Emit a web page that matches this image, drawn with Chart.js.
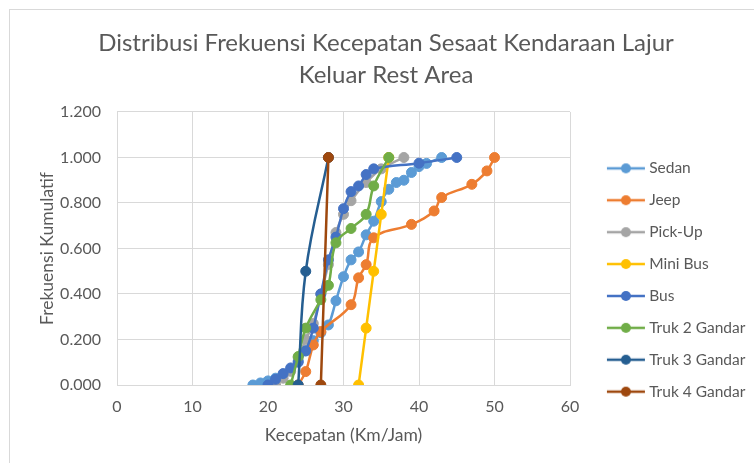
<!DOCTYPE html>
<html>
<head>
<meta charset="utf-8">
<script src="https://cdn.jsdelivr.net/npm/chart.js@4.4.1/dist/chart.umd.min.js"></script>
<style>
  html, body { margin: 0; padding: 0; background: #fff; overflow: hidden; }
  canvas { position: absolute; left: 0; top: 0; }
  #frame { position: absolute; left: 9px; top: 9px; width: 800px; height: 500px; border: 1px solid #d9d9d9; pointer-events: none; }
</style>
</head>
<body>
<canvas id="chart" width="754" height="463"></canvas>
<div id="frame"></div>
<script>
// Series (speed in km/h, cumulative frequency)
const seriesNames = ['Sedan', 'Jeep', 'Pick-Up', 'Mini Bus', 'Bus', 'Truk 2 Gandar', 'Truk 3 Gandar', 'Truk 4 Gandar'];
const seriesColors = ['#5B9BD5', '#ED7D31', '#A5A5A5', '#FFC000', '#4472C4', '#70AD47', '#255E91', '#9E480E'];

const sedanSpeed = [18, 19, 20, 21, 22, 23, 24, 25, 26, 27, 28, 29, 30, 31, 32, 33, 34, 35, 36, 37, 38, 39, 40, 41, 43];
const sedanFreq = [0.000, 0.009, 0.018, 0.030, 0.044, 0.066, 0.105, 0.150, 0.195, 0.230, 0.264, 0.370, 0.476, 0.550, 0.585, 0.660, 0.720, 0.806, 0.860, 0.890, 0.900, 0.934, 0.960, 0.974, 1.000];

const jeepSpeed = [24, 25, 26, 27, 31, 32, 33, 34, 39, 42, 43, 47, 49, 50];
const jeepFreq = [0.000, 0.059, 0.176, 0.235, 0.353, 0.471, 0.529, 0.647, 0.706, 0.765, 0.824, 0.882, 0.941, 1.000];

const pickupSpeed = [21, 22, 23, 24, 25, 26, 27, 28, 29, 30, 31, 33, 35, 38];
const pickupFreq = [0.000, 0.030, 0.060, 0.120, 0.200, 0.270, 0.400, 0.530, 0.670, 0.750, 0.810, 0.890, 0.950, 1.000];

const minibusSpeed = [32, 33, 34, 35, 36];
const minibusFreq = [0.000, 0.250, 0.500, 0.750, 1.000];

const busSpeed = [20, 21, 22, 23, 24, 25, 26, 27, 28, 29, 30, 31, 32, 33, 34, 40, 45];
const busFreq = [0.000, 0.025, 0.050, 0.075, 0.100, 0.150, 0.250, 0.400, 0.550, 0.650, 0.775, 0.850, 0.875, 0.925, 0.950, 0.975, 1.000];

const truk2Speed = [23, 24, 25, 27, 28, 29, 31, 33, 34, 36];
const truk2Freq = [0.000, 0.125, 0.250, 0.375, 0.438, 0.625, 0.688, 0.750, 0.875, 1.000];

const truk3Speed = [24, 25, 28];
const truk3Freq = [0.000, 0.500, 1.000];

const truk4Speed = [27, 28];
const truk4Freq = [0.000, 1.000];

const xTicks = [0, 10, 20, 30, 40, 50, 60];
const yTicks = [0, 0.2, 0.4, 0.6, 0.8, 1.0, 1.2];

const allSpeeds = [sedanSpeed, jeepSpeed, pickupSpeed, minibusSpeed, busSpeed, truk2Speed, truk3Speed, truk4Speed];
const allFreqs = [sedanFreq, jeepFreq, pickupFreq, minibusFreq, busFreq, truk2Freq, truk3Freq, truk4Freq];

const textColor = '#595959';
const gridColor = '#D9D9D9';
const fontFamily = 'Lato, "Open Sans", sans-serif';

// line + marker icon used in the legend
function legendIcon(color) {
    const c = document.createElement('canvas');
    c.width = 66;
    c.height = 12;
    const g = c.getContext('2d');
    g.strokeStyle = color;
    g.lineWidth = 2.5;
    g.beginPath();
    g.moveTo(26, 6);
    g.lineTo(64, 6);
    g.stroke();
    g.fillStyle = color;
    g.beginPath();
    g.arc(45, 6, 5, 0, Math.PI * 2);
    g.fill();
    return c;
}

const datasets = seriesNames.map((name, i) => ({
    label: name,
    data: allSpeeds[i].map((x, j) => ({ x: x, y: allFreqs[i][j] })),
    showLine: true,
    tension: 0.4,
    borderColor: seriesColors[i],
    backgroundColor: seriesColors[i],
    borderWidth: 2.5,
    pointRadius: 5,
    pointBorderWidth: 1,
    pointBackgroundColor: seriesColors[i],
    pointBorderColor: seriesColors[i],
    order: seriesNames.length - i // later series on top, as in Excel
}));

// keep the legend box at a fixed width so the plot area lines up
const fixedLegendWidth = {
    id: 'fixedLegendWidth',
    beforeLayout(chart) {
        const legend = chart.legend;
        if (legend && !legend._widthFixed) {
            const fit = legend.fit;
            legend.fit = function () {
                fit.call(this);
                this.width = 184;
            };
            legend._widthFixed = true;
        }
    }
};

new Chart(document.getElementById('chart'), {
    type: 'scatter',
    data: { datasets: datasets },
    plugins: [fixedLegendWidth],
    options: {
        responsive: false,
        animation: false,
        devicePixelRatio: 1,
        layout: { padding: { top: 10, left: 18, right: 0, bottom: 15 } },
        plugins: {
            title: {
                display: true,
                text: ['Distribusi Frekuensi Kecepatan Sesaat Kendaraan Lajur', 'Keluar Rest Area'],
                color: textColor,
                font: { family: fontFamily, size: 24, weight: 'normal', lineHeight: 1.333 },
                padding: { top: 17, bottom: 21 }
            },
            legend: {
                position: 'right',
                align: 'center',
                // empty title only used as a spacer to push the items down
                title: { display: true, text: '', font: { size: 10, lineHeight: 1 }, padding: { top: 92, bottom: 0 } },
                labels: {
                    color: textColor,
                    font: { family: fontFamily, size: 15.5 },
                    padding: 16.4,
                    usePointStyle: true,
                    pointStyleWidth: 55,
                    sort: (a, b) => a.datasetIndex - b.datasetIndex,
                    generateLabels: (chart) => {
                        const items = Chart.defaults.plugins.legend.labels.generateLabels(chart);
                        items.forEach(item => {
                            item.pointStyle = legendIcon(seriesColors[item.datasetIndex]);
                        });
                        return items;
                    }
                }
            },
            tooltip: { enabled: false }
        },
        scales: {
            x: {
                type: 'linear',
                min: 0,
                max: 60,
                afterBuildTicks: (scale) => { scale.ticks = xTicks.map(v => ({ value: v })); },
                ticks: { color: textColor, font: { family: fontFamily, size: 16 }, padding: 12 },
                grid: { color: gridColor, drawTicks: false },
                border: { color: gridColor },
                title: {
                    display: true,
                    text: 'Kecepatan (Km/Jam)',
                    color: textColor,
                    font: { family: fontFamily, size: 17.5 },
                    padding: { top: 0, bottom: 2.5 }
                },
                afterFit: (scale) => { scale.height = 63; }
            },
            y: {
                type: 'linear',
                min: 0,
                max: 1.2,
                afterBuildTicks: (scale) => { scale.ticks = yTicks.map(v => ({ value: v })); },
                ticks: {
                    color: textColor,
                    font: { family: fontFamily, size: 16 },
                    padding: 16,
                    callback: (v) => Number(v).toFixed(3)
                },
                grid: { color: gridColor, drawTicks: false },
                border: { color: gridColor },
                title: {
                    display: true,
                    text: 'Frekuensi Kumulatif',
                    color: textColor,
                    font: { family: fontFamily, size: 17.5 },
                    padding: { top: 18.5, bottom: 0 }
                },
                afterFit: (scale) => { scale.width = 99; }
            }
        }
    }
});
</script>
</body>
</html>
